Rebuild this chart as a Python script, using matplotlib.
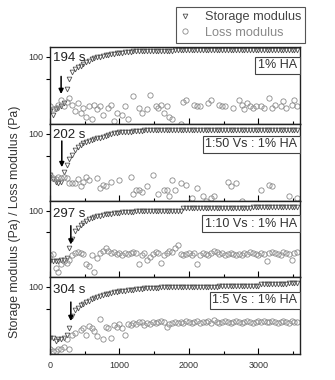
import numpy as np
import matplotlib
matplotlib.use("Agg")
import matplotlib.pyplot as plt
from matplotlib.lines import Line2D
from matplotlib.ticker import NullFormatter

plt.rcParams['font.family'] = ['Liberation Sans', 'DejaVu Sans']

# time base (s), one point every 40 s
time_s = np.arange(0, 3600, 40)

# storage modulus (Pa), one list per panel
storage_1 = [18, 16, 19, 20, 21, 23, 36, 50, 62, 68,
             72, 76, 80, 85, 89, 93, 96, 99, 101, 103,
             105, 107, 109, 111, 112, 114, 115, 116, 117, 118,
             119, 119, 120, 121, 121, 122, 122, 122, 122, 122,
             122, 122, 122, 122, 122, 123, 123, 123, 123, 123,
             123, 123, 123, 123, 123, 123, 123, 123, 123, 123,
             123, 123, 123, 123, 123, 123, 123, 123, 123, 123,
             124, 124, 124, 124, 124, 124, 124, 124, 124, 124,
             124, 124, 124, 124, 124, 124, 124, 124, 124, 124]
storage_2 = [27, 24, 22, 21, 22, 30, 38, 46, 52, 60,
             66, 70, 74, 77, 80, 83, 86, 88, 89, 91,
             93, 96, 100, 103, 104, 105, 106, 107, 108, 108,
             109, 110, 111, 111, 112, 112, 112, 112, 112, 112,
             112, 112, 112, 112, 112, 113, 113, 113, 113, 113,
             113, 113, 113, 113, 113, 113, 113, 113, 113, 113,
             113, 113, 113, 113, 113, 113, 113, 113, 113, 113,
             113, 113, 113, 113, 113, 113, 113, 113, 113, 113,
             113, 113, 113, 113, 113, 113, 113, 113, 113, 113]
storage_3 = [20, 20, 20, 20, 21, 21, 22, 30, 41, 52,
             58, 63, 68, 72, 76, 79, 82, 84, 86, 88,
             89, 90, 91, 92, 93, 94, 95, 96, 97, 97,
             97, 98, 98, 98, 98, 98, 98, 98, 98, 98,
             98, 98, 98, 99, 99, 99, 99, 99, 108, 109,
             109, 109, 109, 109, 109, 109, 110, 110, 110, 110,
             110, 110, 110, 110, 110, 110, 110, 110, 110, 110,
             110, 110, 110, 113, 113, 113, 113, 113, 113, 114,
             114, 114, 114, 114, 114, 114, 114, 114, 114, 114]
storage_4 = [20, 20, 18, 19, 19, 20, 22, 27, 40, 48,
             52, 56, 59, 62, 65, 68, 70, 72, 75, 77,
             79, 81, 83, 84, 86, 87, 88, 89, 90, 91,
             92, 93, 94, 95, 96, 96, 97, 97, 97, 98,
             100, 100, 100, 100, 100, 100, 100, 100, 100, 100,
             100, 100, 100, 100, 100, 100, 100, 100, 100, 100,
             100, 103, 103, 103, 103, 103, 103, 103, 103, 103,
             103, 103, 103, 103, 103, 103, 110, 110, 110, 110,
             110, 110, 110, 110, 110, 110, 112, 112, 112, 113]

# loss modulus (Pa)
loss_1 = [21, 19, 20, 22, 26, 21, 24, 27, 22, 18,
          23, 17, 20, 15, 21, 14, 22, 19, 21, 16,
          10, 20, 22, 13, 17, 9, 16, 21, 14, 10,
          29, 11, 20, 17, 9, 19, 30, 10, 21, 20,
          22, 17, 21, 15, 14, 11, 9, 12, 24, 26,
          10, 9, 22, 21, 21, 10, 8, 23, 26, 11,
          9, 22, 21, 21, 10, 9, 20, 10, 26, 22,
          19, 23, 21, 20, 21, 9, 21, 20, 10, 27,
          20, 22, 10, 21, 25, 20, 10, 22, 26, 21]
loss_2 = [27, 25, 24, 26, 25, 26, 25, 21, 21, 21,
          24, 19, 22, 26, 23, 10, 9, 25, 18, 20,
          19, 10, 22, 9, 10, 23, 10, 11, 9, 26,
          15, 17, 17, 16, 10, 19, 9, 27, 10, 15,
          9, 17, 17, 14, 23, 17, 10, 21, 9, 20,
          11, 13, 10, 18, 9, 14, 12, 11, 13, 14,
          10, 9, 10, 11, 22, 19, 10, 21, 9, 12,
          10, 9, 11, 10, 10, 11, 17, 9, 10, 20,
          19, 10, 9, 11, 10, 10, 14, 9, 10, 13]
loss_3 = [24, 25, 16, 14, 18, 20, 19, 21, 24, 26,
          27, 26, 25, 18, 17, 24, 14, 22, 26, 28,
          30, 28, 26, 27, 25, 26, 24, 26, 25, 26,
          27, 26, 18, 24, 26, 21, 23, 25, 27, 26,
          19, 24, 26, 28, 27, 30, 33, 25, 24, 25,
          26, 24, 26, 18, 24, 26, 25, 24, 26, 28,
          27, 25, 26, 24, 25, 26, 25, 24, 25, 24,
          26, 25, 27, 26, 25, 24, 26, 25, 20, 26,
          27, 26, 25, 24, 27, 26, 25, 21, 26, 27]
loss_4 = [14, 13, 13, 14, 14, 15, 19, 14, 22, 23,
          9, 26, 27, 22, 29, 27, 25, 21, 36, 19,
          28, 27, 20, 30, 28, 31, 27, 22, 31, 30,
          32, 31, 33, 33, 30, 32, 31, 33, 32, 33,
          34, 33, 28, 31, 32, 33, 32, 33, 32, 34,
          33, 32, 33, 34, 32, 33, 33, 34, 32, 35,
          33, 32, 33, 34, 33, 32, 33, 34, 33, 32,
          33, 34, 33, 32, 33, 34, 33, 34, 33, 33,
          34, 33, 32, 33, 34, 33, 32, 34, 33, 33]

gel_times = ["194 s", "202 s", "297 s", "304 s"]
arrow_t = [160, 170, 300, 300]
samples = ["1% HA", "1:50 Vs : 1% HA", "1:10 Vs : 1% HA", "1:5 Vs : 1% HA"]

storages = [storage_1, storage_2, storage_3, storage_4]
losses = [loss_1, loss_2, loss_3, loss_4]

c_st = '#505050'
c_lo = '#8a8a8a'

fig = plt.figure(figsize=(3.35, 3.8), dpi=100)
left, width = 50 / 335, 250 / 335
tops = [47, 124, 201, 277]
bottoms = [124, 201, 277, 354]

for i in range(4):
    ax = fig.add_axes([left, 1 - bottoms[i] / 380, width, (bottoms[i] - tops[i]) / 380])
    ax.plot(time_s, storages[i], linestyle='none', marker='v', ms=3.4,
            mfc='none', mec=c_st, mew=0.6)
    ax.plot(time_s, losses[i], linestyle='none', marker='o', ms=3.8,
            mfc='none', mec=c_lo, mew=0.6)
    ax.set_yscale('log')
    ax.set_ylim(12, 137)
    ax.set_xlim(0, 3600)
    ax.set_yticks([100])
    ax.set_yticklabels(['100'])
    ax.set_yticks([50], minor=True)
    ax.yaxis.set_minor_formatter(NullFormatter())
    ax.set_xticks([0, 1000, 2000, 3000])
    ax.set_xticks([500, 1500, 2500, 3500], minor=True)
    ax.tick_params(axis='y', which='both', direction='out', length=3, width=0.8,
                   labelsize=6.5, labelcolor='#333333', pad=2)
    ax.tick_params(axis='x', which='major', direction='in', length=4, width=0.8,
                   labelsize=6.5, labelcolor='#333333', pad=5)
    ax.tick_params(axis='x', which='minor', direction='in', length=2.5, width=0.8)
    if i < 3:
        ax.tick_params(axis='x', labelbottom=False)
    for sp in ax.spines.values():
        sp.set_linewidth(1.0)
        sp.set_color('#222222')

    ax.text(0.012, 0.93 if i < 2 else 0.91, gel_times[i], transform=ax.transAxes,
            ha='left', va='top', fontsize=9.5, color='#222222')
    yc = [0.766, 0.74, 0.70, 0.70][i]
    ax.text(0.988, yc, samples[i], transform=ax.transAxes, ha='right', va='center',
            fontsize=9, color='#333333',
            bbox=dict(boxstyle='square,pad=0.2', fc='white', ec='#444444', lw=0.8))
    ax.annotate('', xy=(arrow_t[i], [31, 35, 34, 34][i]),
                xytext=(arrow_t[i], [54, 80, 62, 62][i]),
                arrowprops=dict(arrowstyle='-|>', color='black', lw=1.1,
                                mutation_scale=7, shrinkA=0, shrinkB=0))

fig.text(15 / 335, 1 - 222 / 380, "Storage modulus (Pa) / Loss modulus (Pa)",
         rotation=90, ha='center', va='center', fontsize=8.8, color='#333333')

handles = [Line2D([], [], linestyle='none', marker='v', ms=3.4, mfc='none', mec=c_st, mew=0.6),
           Line2D([], [], linestyle='none', marker='o', ms=3.8, mfc='none', mec=c_lo, mew=0.6)]
leg = fig.legend(handles, ["Storage modulus", "Loss modulus"], loc='upper right',
                 bbox_to_anchor=(308 / 335, 1 - 4 / 380), fontsize=9.2,
                 frameon=True, fancybox=False, edgecolor='#555555', framealpha=1,
                 borderpad=0.35, handletextpad=1.1, labelspacing=0.3, handlelength=0.8,
                 borderaxespad=0.2)
leg.get_frame().set_linewidth(0.8)
leg.get_texts()[0].set_color('#444444')
leg.get_texts()[1].set_color('#8a8a8a')

fig.savefig("out.png", dpi=100)
